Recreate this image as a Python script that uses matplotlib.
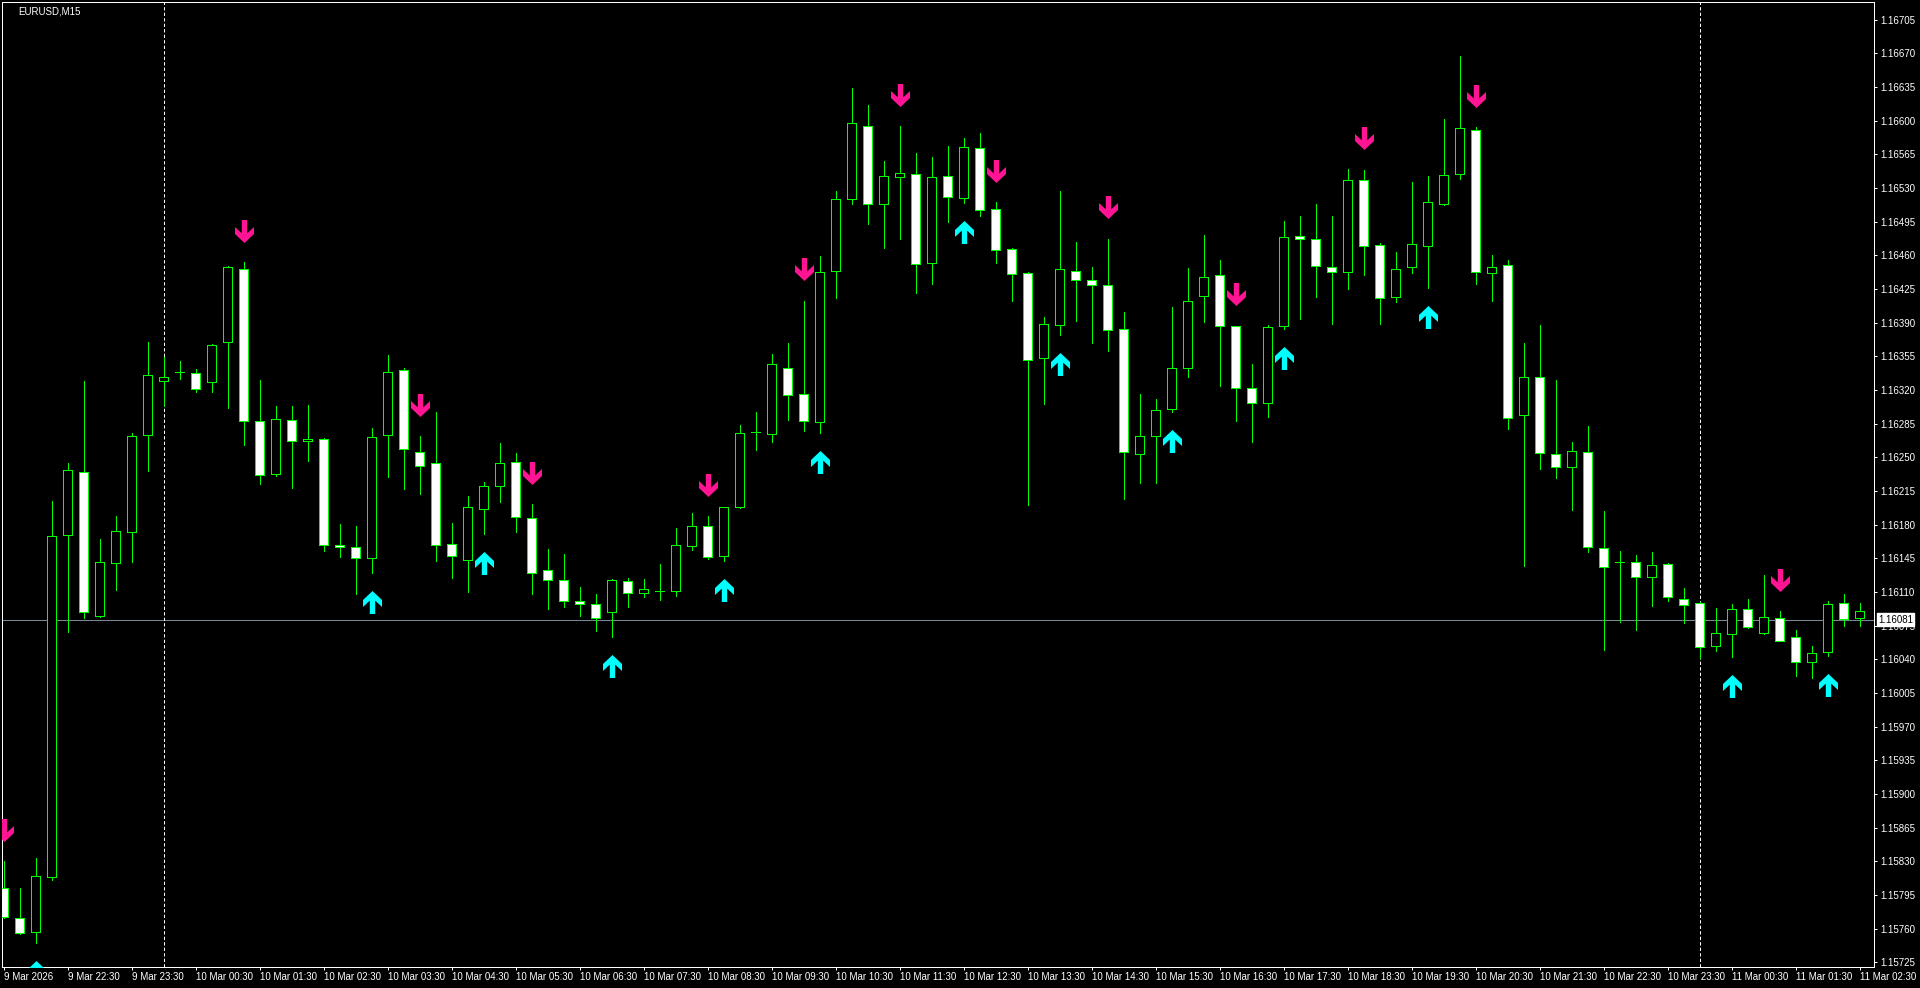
import matplotlib
matplotlib.use("Agg")
import matplotlib.pyplot as plt
import pandas as pd
from matplotlib.path import Path
from matplotlib.ticker import FormatStrFormatter
from matplotlib.transforms import ScaledTranslation, blended_transform_factory

symbol = "EURUSD,M15"
first_bar = "2026-03-09 21:30"
bid = 1.16081

opens = [1.15802, 1.15771, 1.15757, 1.15814, 1.16169, 1.16235, 1.16085, 1.16140, 1.16172, 1.16273,
         1.16329, 1.16339, 1.16338, 1.16328, 1.16370, 1.16446, 1.16288, 1.16233, 1.16289, 1.16267,
         1.16269, 1.16159, 1.16157, 1.16145, 1.16273, 1.16341, 1.16256, 1.16244, 1.16160, 1.16143,
         1.16196, 1.16220, 1.16245, 1.16187, 1.16133, 1.16122, 1.16101, 1.16098, 1.16089, 1.16121,
         1.16109, 1.16111, 1.16111, 1.16158, 1.16179, 1.16147, 1.16198, 1.16276, 1.16274, 1.16343,
         1.16316, 1.16287, 1.16444, 1.16519, 1.16594, 1.16513, 1.16541, 1.16545, 1.16452, 1.16542,
         1.16520, 1.16572, 1.16508, 1.16467, 1.16442, 1.16353, 1.16388, 1.16444, 1.16434, 1.16429,
         1.16383, 1.16253, 1.16272, 1.16300, 1.16343, 1.16418, 1.16440, 1.16386, 1.16322, 1.16306,
         1.16386, 1.16480, 1.16477, 1.16448, 1.16443, 1.16538, 1.16471, 1.16417, 1.16448, 1.16470,
         1.16513, 1.16544, 1.16590, 1.16442, 1.16450, 1.16294, 1.16333, 1.16253, 1.16240, 1.16256,
         1.16156, 1.16141, 1.16141, 1.16126, 1.16139, 1.16103, 1.16099, 1.16054, 1.16066, 1.16092,
         1.16067, 1.16083, 1.16063, 1.16037, 1.16048, 1.16099, 1.16083]
highs = [1.15830, 1.15802, 1.15833, 1.16205, 1.16244, 1.16329, 1.16165, 1.16189, 1.16275, 1.16370,
         1.16354, 1.16350, 1.16342, 1.16368, 1.16449, 1.16453, 1.16330, 1.16303, 1.16303, 1.16304,
         1.16270, 1.16181, 1.16179, 1.16280, 1.16356, 1.16343, 1.16272, 1.16297, 1.16182, 1.16210,
         1.16224, 1.16265, 1.16255, 1.16201, 1.16155, 1.16150, 1.16115, 1.16108, 1.16123, 1.16125,
         1.16124, 1.16139, 1.16177, 1.16192, 1.16189, 1.16198, 1.16284, 1.16297, 1.16357, 1.16369,
         1.16413, 1.16459, 1.16527, 1.16634, 1.16616, 1.16558, 1.16594, 1.16566, 1.16562, 1.16574,
         1.16582, 1.16587, 1.16515, 1.16468, 1.16443, 1.16396, 1.16527, 1.16474, 1.16448, 1.16477,
         1.16401, 1.16316, 1.16311, 1.16406, 1.16447, 1.16481, 1.16455, 1.16387, 1.16347, 1.16388,
         1.16496, 1.16501, 1.16513, 1.16501, 1.16550, 1.16549, 1.16473, 1.16463, 1.16536, 1.16542,
         1.16602, 1.16667, 1.16593, 1.16460, 1.16455, 1.16369, 1.16388, 1.16330, 1.16266, 1.16283,
         1.16194, 1.16153, 1.16148, 1.16152, 1.16140, 1.16114, 1.16100, 1.16093, 1.16098, 1.16103,
         1.16128, 1.16090, 1.16070, 1.16054, 1.16101, 1.16108, 1.16099]
lows = [1.15771, 1.15754, 1.15745, 1.15811, 1.16068, 1.16083, 1.16084, 1.16112, 1.16141, 1.16236,
        1.16303, 1.16331, 1.16318, 1.16318, 1.16301, 1.16263, 1.16222, 1.16231, 1.16218, 1.16246,
        1.16153, 1.16146, 1.16108, 1.16130, 1.16230, 1.16217, 1.16212, 1.16142, 1.16125, 1.16110,
        1.16170, 1.16204, 1.16172, 1.16108, 1.16092, 1.16094, 1.16085, 1.16069, 1.16063, 1.16094,
        1.16105, 1.16102, 1.16106, 1.16154, 1.16144, 1.16142, 1.16197, 1.16258, 1.16266, 1.16289,
        1.16277, 1.16275, 1.16416, 1.16513, 1.16493, 1.16468, 1.16477, 1.16421, 1.16430, 1.16495,
        1.16514, 1.16501, 1.16452, 1.16413, 1.16200, 1.16305, 1.16377, 1.16392, 1.16369, 1.16361,
        1.16207, 1.16223, 1.16223, 1.16297, 1.16333, 1.16391, 1.16324, 1.16288, 1.16266, 1.16292,
        1.16383, 1.16394, 1.16417, 1.16389, 1.16425, 1.16440, 1.16389, 1.16411, 1.16442, 1.16426,
        1.16512, 1.16539, 1.16430, 1.16412, 1.16279, 1.16137, 1.16238, 1.16228, 1.16195, 1.16152,
        1.16050, 1.16079, 1.16071, 1.16095, 1.16101, 1.16078, 1.16041, 1.16049, 1.16042, 1.16073,
        1.16066, 1.16059, 1.16023, 1.16021, 1.16043, 1.16075, 1.16075]
closes = [1.15772, 1.15756, 1.15815, 1.16168, 1.16237, 1.16089, 1.16141, 1.16173, 1.16272, 1.16336,
          1.16333, 1.16339, 1.16321, 1.16367, 1.16448, 1.16288, 1.16232, 1.16290, 1.16267, 1.16269,
          1.16159, 1.16157, 1.16145, 1.16271, 1.16339, 1.16259, 1.16241, 1.16159, 1.16147, 1.16198,
          1.16220, 1.16244, 1.16188, 1.16130, 1.16122, 1.16101, 1.16098, 1.16083, 1.16122, 1.16109,
          1.16113, 1.16111, 1.16159, 1.16179, 1.16146, 1.16198, 1.16275, 1.16276, 1.16347, 1.16315,
          1.16288, 1.16443, 1.16519, 1.16598, 1.16513, 1.16542, 1.16546, 1.16451, 1.16541, 1.16521,
          1.16573, 1.16507, 1.16466, 1.16441, 1.16351, 1.16389, 1.16446, 1.16434, 1.16429, 1.16382,
          1.16256, 1.16272, 1.16299, 1.16343, 1.16412, 1.16437, 1.16386, 1.16322, 1.16306, 1.16385,
          1.16479, 1.16477, 1.16449, 1.16443, 1.16538, 1.16470, 1.16416, 1.16446, 1.16472, 1.16515,
          1.16543, 1.16592, 1.16443, 1.16448, 1.16291, 1.16333, 1.16255, 1.16240, 1.16257, 1.16157,
          1.16136, 1.16141, 1.16126, 1.16138, 1.16105, 1.16097, 1.16053, 1.16067, 1.16092, 1.16074,
          1.16084, 1.16059, 1.16037, 1.16047, 1.16098, 1.16082, 1.16090]

# bars where the indicator printed an arrow
sell_signals = [0, 15, 26, 33, 44, 50, 56, 62, 69, 77, 85, 92, 111]
buy_signals = [2, 23, 30, 38, 45, 51, 60, 66, 73, 80, 89, 108, 114]

GREEN = "#00ff00"
PINK = "#ff1493"
CYAN = "#00ffff"
PX = 0.72  # one pixel in points at dpi 100

plt.rcParams["font.family"] = ["Liberation Sans", "DejaVu Sans"]

n = len(opens)
times = pd.date_range(first_bar, periods=n, freq="15min")
x = list(range(n))

fig = plt.figure(figsize=(19.2, 9.88), dpi=100, facecolor="black")
ax = fig.add_axes([2 / 1920, 21 / 988, 1872 / 1920, 965 / 988])
ax.set_facecolor("black")

# candles: wick first, body on top
ax.vlines(x, lows, highs, color=GREEN, linewidth=PX, antialiased=False, zorder=2)
bottoms = [min(o, c) for o, c in zip(opens, closes)]
heights = [abs(c - o) for o, c in zip(opens, closes)]
fills = ["white" if c < o else "black" for o, c in zip(opens, closes)]
ax.bar(x, heights, bottom=bottoms, width=0.6, color=fills, edgecolor=GREEN,
       linewidth=PX, antialiased=False, zorder=3)

# bid line and day separators
ax.axhline(bid, color="#778899", linewidth=PX, zorder=1)
for i, t in enumerate(times):
    if t.hour == 0 and t.minute == 0:
        ax.axvline(i, color="white", linewidth=PX, linestyle=(0, (3.3, 2.2)), zorder=1)

# arrow markers (pixel shape, 19x23)
down_verts = [(-2.7, 11.5), (2.7, 11.5), (2.7, -1.9), (9.5, 4.5), (9.5, -2.5), (0, -11.5),
              (-9.5, -2.5), (-9.5, 4.5), (-2.7, -1.9), (-2.7, 11.5)]
up_verts = [(vx, -vy) for vx, vy in down_verts]
codes = [Path.MOVETO] + [Path.LINETO] * (len(down_verts) - 2) + [Path.CLOSEPOLY]
down_arrow = Path(down_verts, codes)
up_arrow = Path(up_verts, codes)
ms = 23 * PX

above = ax.transData + ScaledTranslation(0, 31.5 / 100, fig.dpi_scale_trans)
below = ax.transData + ScaledTranslation(0, -29 / 100, fig.dpi_scale_trans)
ax.plot(sell_signals, [highs[i] for i in sell_signals], linestyle="none", marker=down_arrow,
        markersize=ms, markerfacecolor=PINK, markeredgewidth=0, transform=above, zorder=4)
ax.plot(buy_signals, [lows[i] for i in buy_signals], linestyle="none", marker=up_arrow,
        markersize=ms, markerfacecolor=CYAN, markeredgewidth=0, transform=below, zorder=4)

# axes formatting
ax.set_xlim(-0.094, 116.906)
ax.set_ylim(1.157202, 1.167233)

price_ticks = [1.15725 + 0.00035 * k for k in range(29)]
ax.yaxis.tick_right()
ax.set_yticks(price_ticks)
ax.yaxis.set_major_formatter(FormatStrFormatter("%.5f"))

tick_pos = x[::4]
tick_labels = [f"{t.day} {t:%b %H:%M}" for t in times[::4]]
tick_labels[0] = f"{times[0].day} {times[0]:%b %Y}"
ax.set_xticks(tick_pos)
ax.set_xticklabels(tick_labels, ha="left")

ax.tick_params(colors="white", labelcolor="white", labelsize=7, length=3 * PX,
               width=PX, direction="out")
ax.tick_params(axis="y", pad=3 * PX)
ax.tick_params(axis="x", pad=1.5 * PX)
for s in ax.spines.values():
    s.set_color("white")
    s.set_linewidth(PX)

# bid price box on the price scale
trans = blended_transform_factory(ax.transAxes, ax.transData)
ax.annotate(f"{bid:.5f}", xy=(1, bid), xycoords=trans, xytext=(4, 0), textcoords="offset pixels",
            ha="left", va="center", fontsize=7, color="black", annotation_clip=False,
            bbox=dict(boxstyle="square,pad=0.15", fc="white", ec="white"), zorder=5)

fig.text(18 / 1920, 1 - 11 / 988, symbol, color="white", fontsize=7, va="center", ha="left")

fig.savefig("out.png", dpi=100, facecolor="black")
